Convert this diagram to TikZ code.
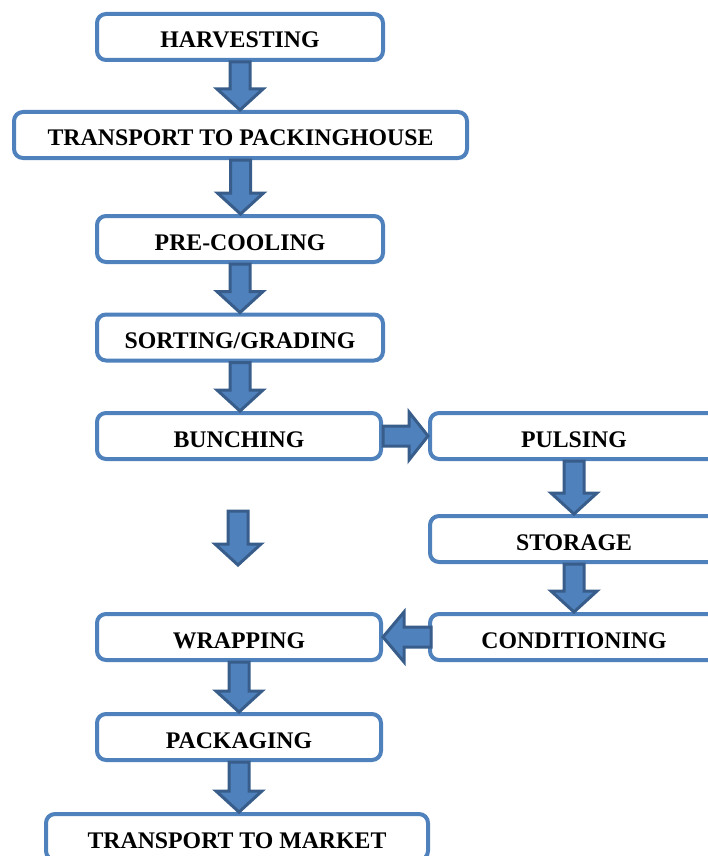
\documentclass[tikz,border=0pt]{standalone}
\usepackage{fontspec}
\setmainfont{Liberation Serif}
\usetikzlibrary{calc}
\definecolor{boxblue}{HTML}{4F81BD}
\definecolor{arrowedge}{HTML}{385D8A}
\newcommand\downblock[2]{\draw[barrow] let \p1=(#1), \p2=(#2) in
  (\x1-10pt,\y1) -- (\x1+10pt,\y1) -- (\x1+10pt,\y2+21pt) -- (\x1+23pt,\y2+21pt)
  -- (\x1,\y2) -- (\x1-23pt,\y2+21pt) -- (\x1-10pt,\y2+21pt) -- cycle;}
\newcommand\rightblock[2]{\draw[barrow] let \p1=(#1), \p2=(#2) in
  (\x1,\y1+10pt) -- (\x2-19pt,\y1+10pt) -- (\x2-19pt,\y1+24pt) -- (\x2,\y1)
  -- (\x2-19pt,\y1-24pt) -- (\x2-19pt,\y1-10pt) -- (\x1,\y1-10pt) -- cycle;}
\newcommand\leftblock[2]{\draw[barrow] let \p1=(#1), \p2=(#2) in
  (\x1+3pt,\y1+10pt) -- (\x2+21pt,\y1+10pt) -- (\x2+21pt,\y1+25pt) -- (\x2,\y1)
  -- (\x2+21pt,\y1-25pt) -- (\x2+21pt,\y1-10pt) -- (\x1+3pt,\y1-10pt) -- cycle;}
\begin{document}
\begin{tikzpicture}[x=1pt,y=-1pt,
  stage/.style={draw=boxblue, line width=4pt, rounded corners=9pt, fill=white,
    minimum height=46pt, inner sep=0pt,
    font=\fontsize{23.8}{28}\selectfont\bfseries, text height=22pt, text depth=0pt},
  barrow/.style={fill=boxblue, draw=arrowedge, line width=3pt, line join=miter}]
\useasboundingbox (0,0) rectangle (708,856);
\clip (0,0) rectangle (708,856);
\node[stage, minimum width=286pt] (harv) at (240,37) {HARVESTING};
\node[stage, minimum width=453pt] (tpack) at (240.5,135) {TRANSPORT TO PACKINGHOUSE};
\node[stage, minimum width=286pt] (precool) at (240,239) {PRE-COOLING};
\node[stage, minimum width=286pt] (sort) at (240,337.5) {SORTING/GRADING};
\node[stage, minimum width=284pt] (bunch) at (239,436) {BUNCHING};
\node[stage, minimum width=288pt] (puls) at (574,436) {PULSING};
\node[stage, minimum width=288pt] (stor) at (574,539) {STORAGE};
\node[stage, minimum width=288pt] (cond) at (574,637) {CONDITIONING};
\node[stage, minimum width=284pt] (wrap) at (239,637) {WRAPPING};
\node[stage, minimum width=284pt] (pack) at (239,737) {PACKAGING};
\node[stage, minimum width=382pt] (tmark) at (237,837) {TRANSPORT TO MARKET};
\coordinate (fa) at (238,511);
\coordinate (fb) at (238,565);
\downblock{harv.south}{tpack.north}
\downblock{tpack.south}{precool.north}
\downblock{precool.south}{sort.north}
\downblock{sort.south}{bunch.north}
\rightblock{bunch.east}{puls.west}
\downblock{puls.south}{stor.north}
\downblock{stor.south}{cond.north}
\downblock{fa}{fb}
\leftblock{cond.west}{wrap.east}
\downblock{wrap.south}{pack.north}
\downblock{pack.south}{tmark.north}
\end{tikzpicture}
\end{document}
